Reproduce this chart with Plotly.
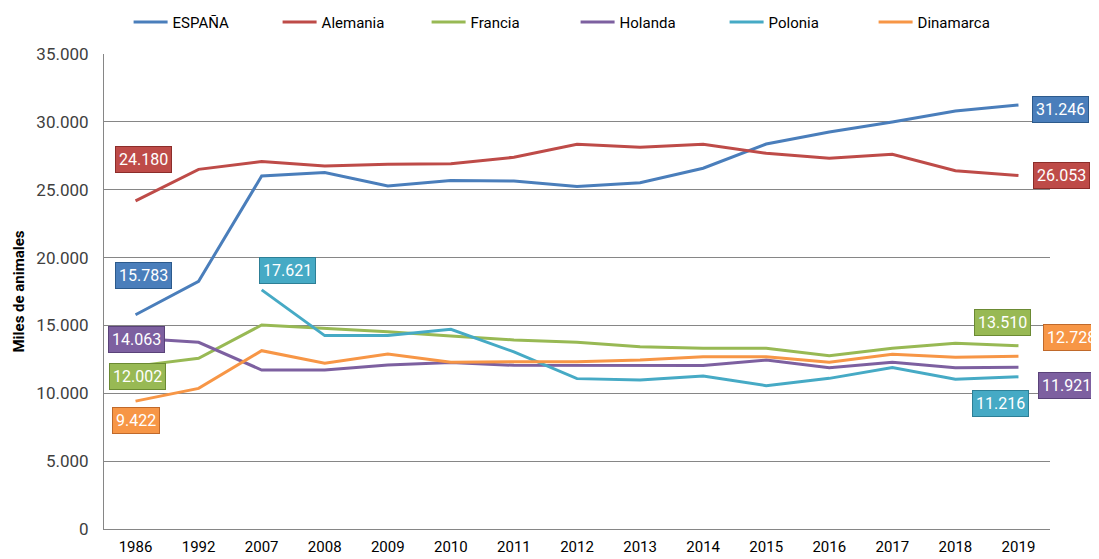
import plotly.graph_objects as go

years = ["1986", "1992", "2007", "2008", "2009", "2010", "2011", "2012",
         "2013", "2014", "2015", "2016", "2017", "2018", "2019"]

espana = [15783, 18250, 26010, 26260, 25280, 25670, 25640, 25230,
          25520, 26580, 28370, 29250, 29990, 30800, 31246]
alemania = [24180, 26500, 27070, 26750, 26870, 26920, 27390, 28350,
            28120, 28350, 27680, 27310, 27610, 26400, 26053]
francia = [12002, 12575, 15030, 14790, 14540, 14220, 13930, 13760,
           13430, 13310, 13310, 12770, 13310, 13680, 13510]
holanda = [14063, 13760, 11716, 11716, 12085, 12260, 12060, 12060,
           12040, 12040, 12450, 11890, 12280, 11890, 11921]
polonia = [None, None, 17621, 14250, 14250, 14710, 13050, 11080,
           10980, 11270, 10560, 11100, 11890, 11030, 11216]
dinamarca = [9422, 10360, 13140, 12210, 12900, 12280, 12330, 12330,
             12450, 12700, 12700, 12280, 12870, 12650, 12728]

series_names = ["ESPAÑA", "Alemania", "Francia", "Holanda", "Polonia", "Dinamarca"]
series_values = [espana, alemania, francia, holanda, polonia, dinamarca]
colors = ["#4A7EBB", "#BE4B48", "#98B954", "#7D60A0", "#46AAC5", "#F79646"]
borders = ["#2C5A8C", "#8C2D2A", "#6B8A33", "#5A4279", "#2D7F96", "#C0692A"]

y_ticks = [0, 5000, 10000, 15000, 20000, 25000, 30000, 35000]

# label offsets (pixels) for first and last value of each series
label_shifts = {
    "ESPAÑA": [(8, 39), (42, -5)],
    "Alemania": [(8, 41), (43, 0)],
    "Francia": [(2, -10), (-16, 23)],
    "Holanda": [(1, -1), (48, -18)],
    "Polonia": [(26, 19), (-18, -27)],
    "Dinamarca": [(0, -19), (53, 19)],
}

def fmt(v):
    return f"{v:,}".replace(",", ".")

FONT = "Liberation Sans Narrow, Roboto, Arial"

fig = go.Figure()
annotations = []
for name, vals, col, bcol in zip(series_names, series_values, colors, borders):
    fig.add_trace(go.Scatter(
        x=years, y=vals, mode="lines", name=name,
        line=dict(color=col, width=3), connectgaps=False,
    ))
    idx = [i for i, v in enumerate(vals) if v is not None]
    for k, i in enumerate([idx[0], idx[-1]]):
        xs, ys = label_shifts[name][k]
        annotations.append(dict(
            x=i, y=vals[i], xref="x", yref="y",
            text=fmt(vals[i]), showarrow=False,
            xshift=xs, yshift=ys,
            font=dict(family=FONT, size=16, color="white"),
            bgcolor=col, bordercolor=bcol, borderwidth=1, borderpad=3,
        ))

fig.update_layout(
    width=1091, height=551,
    margin=dict(l=96, r=49, t=46, b=30, autoexpand=False),
    paper_bgcolor="white", plot_bgcolor="white",
    separators=",.",
    font=dict(family=FONT, color="#000000"),
    showlegend=True,
    legend=dict(orientation="h", x=0.026, xanchor="left",
                y=1.067, yanchor="middle",
                entrywidth=100, itemwidth=34,
                font=dict(size=15, color="#000000")),
    annotations=annotations,
    xaxis=dict(
        type="category", categoryorder="array", categoryarray=years,
        range=[-0.5, len(years) - 0.5], automargin=False,
        showline=True, linecolor="#868686", linewidth=1,
        showgrid=False, ticks="outside", ticklen=4, tickcolor="rgba(0,0,0,0)",
        tickfont=dict(size=15, color="#000000"),
    ),
    yaxis=dict(
        range=[0, 35000], tickvals=y_ticks, tickformat=",d", automargin=False,
        showline=True, linecolor="#868686", linewidth=1,
        showgrid=True, gridcolor="#868686", gridwidth=1,
        tickfont=dict(size=17, color="#404040"),
        ticks="outside", ticklen=11, tickcolor="rgba(0,0,0,0)",
        title=dict(text="<b>Miles de animales</b>", font=dict(size=15, color="#000000"), standoff=8),
        zeroline=False,
    ),
)

fig.write_html("out.html")
